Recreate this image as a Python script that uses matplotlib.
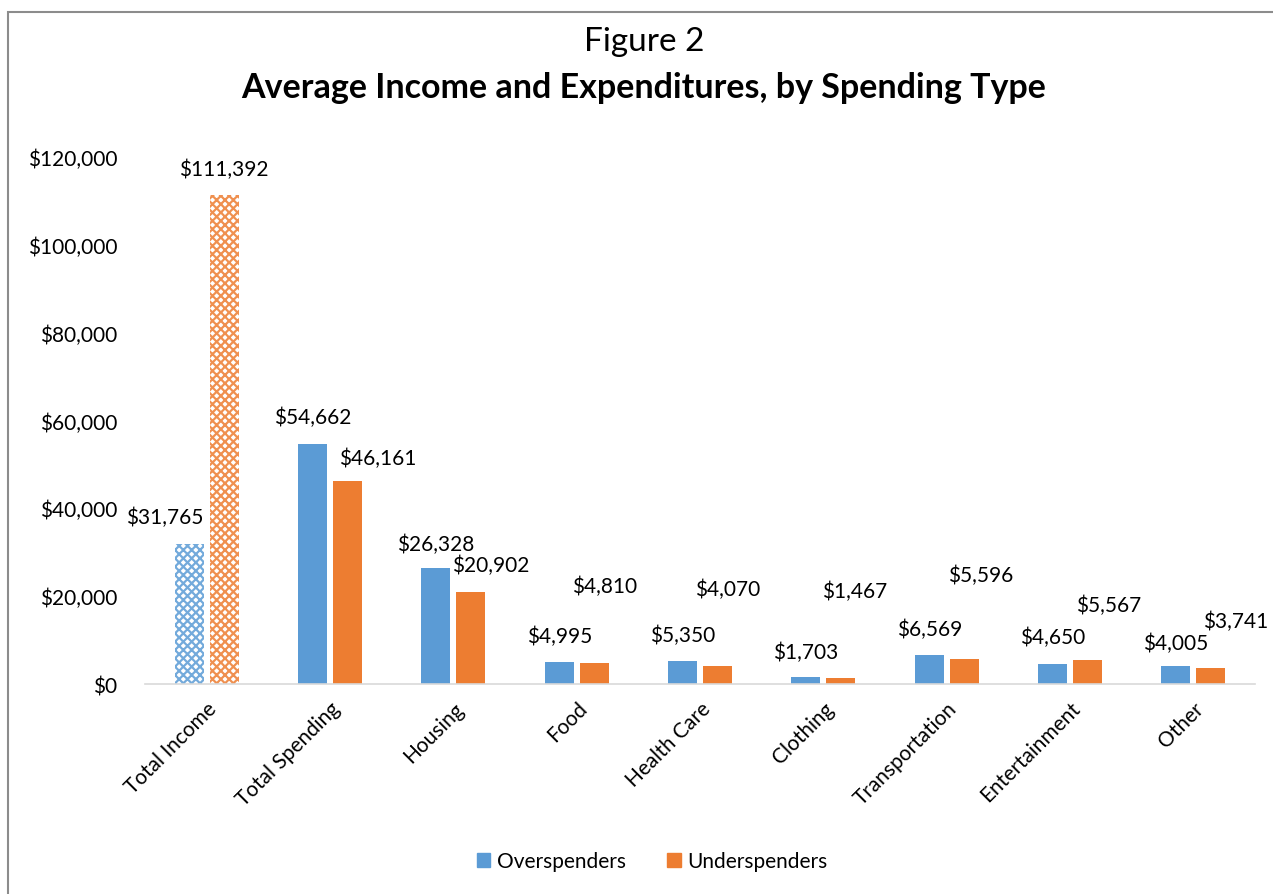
import numpy as np
import matplotlib.pyplot as plt
import matplotlib.patches as mpatches

plt.rcParams['font.family'] = ['Lato', 'DejaVu Sans']
plt.rcParams['hatch.linewidth'] = 1.6

categories = ["Total Income", "Total Spending", "Housing", "Food", "Health Care",
              "Clothing", "Transportation", "Entertainment", "Other"]
over = [31765, 54662, 26328, 4995, 5350, 1703, 6569, 4650, 4005]
under = [111392, 46161, 20902, 4810, 4070, 1467, 5596, 5567, 3741]
yticks = [0, 20000, 40000, 60000, 80000, 100000, 120000]

# label offsets (pixels) from bar top centre, Excel placed them oddly
over_off = [(-24, 28), (0, 27), (0, 24), (0, 26), (0, 26), (0, 25), (0, 26), (0, 27), (0, 24)]
under_off = [(0, 26), (30, 23), (20, 27), (10, 77), (10, 77), (14, 87), (16, 85), (21, 55), (25, 47)]

BLUE = "#5B9BD5"
ORANGE = "#ED7D31"
FS = 15

fig = plt.figure(figsize=(12.73, 8.95), dpi=100)
ax = fig.add_axes([145 / 1273, 1 - 685 / 895, 1110 / 1273, 527 / 895])

x = np.arange(len(categories))
w = 0.235
off = 0.142

for i in x:
    hatched = i == 0
    for val, dx, col, lo in ((over[i], -off, BLUE, over_off[i]), (under[i], off, ORANGE, under_off[i])):
        if hatched:
            ax.bar(i + dx, val, width=w, color="white", edgecolor=col, hatch="xxxx", linewidth=0, alpha=0.85)
        else:
            ax.bar(i + dx, val, width=w, color=col, linewidth=0)
        ax.annotate(f"${val:,}", (i + dx, val), xytext=(lo[0] * 0.72, lo[1] * 0.72),
                    textcoords="offset points", ha="center", va="center", fontsize=FS)

ax.set_xlim(-0.5, len(categories) - 0.5)
ax.set_ylim(0, 120000)
ax.set_yticks(yticks)
ax.set_yticklabels([f"${v:,}" for v in yticks], fontsize=FS)
ax.set_xticks(x)
ax.set_xticklabels(categories, rotation=45, ha="right", rotation_mode="anchor", fontsize=FS)
ax.tick_params(axis="both", length=0)
ax.tick_params(axis="y", pad=20)
ax.tick_params(axis="x", pad=10)
for s in ["top", "right", "left"]:
    ax.spines[s].set_visible(False)
ax.spines["bottom"].set_color("#d9d9d9")
ax.spines["bottom"].set_linewidth(1.2)

fig.text(644 / 1273, 1 - 42 / 895, "Figure 2", ha="center", va="center", fontsize=24)
fig.text(644 / 1273, 1 - 88 / 895, "Average Income and Expenditures, by Spending Type",
         ha="center", va="center", fontsize=24.5, fontweight="bold")

handles = [mpatches.Patch(color=BLUE, label="Overspenders"),
           mpatches.Patch(color=ORANGE, label="Underspenders")]
fig.legend(handles=handles, loc="center", bbox_to_anchor=(652 / 1273, 1 - 862 / 895),
           ncol=2, frameon=False, fontsize=FS, handlelength=0.65, handleheight=0.65,
           columnspacing=2.0, handletextpad=0.3)

border = mpatches.Rectangle((8 / 1273, -0.1), 1.2, 1 - 13 / 895 + 0.1, transform=fig.transFigure,
                            fill=False, edgecolor="#8c8c8c", linewidth=1.5)
fig.add_artist(border)

fig.savefig("out.png", dpi=100)
